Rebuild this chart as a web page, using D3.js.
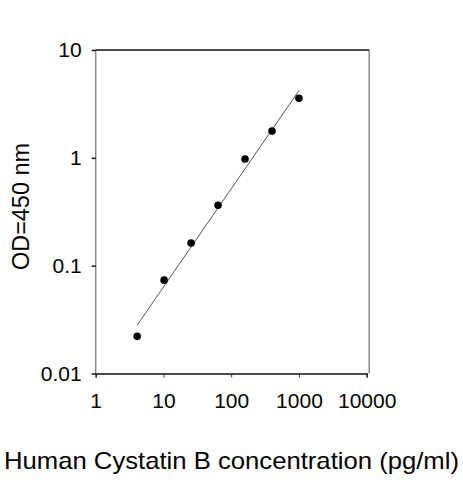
<!DOCTYPE html>
<html>
<head>
<meta charset="utf-8">
<script src="https://cdn.jsdelivr.net/npm/d3@7"></script>
<style>
  html, body { margin: 0; padding: 0; background: #fff; }
  svg { display: block; font-family: "Liberation Sans", Arial, sans-serif; }
</style>
</head>
<body>
<div id="chart"></div>
<script>
// concentration (pg/ml) vs OD at 450 nm
const concentrations = [4.096, 10.24, 25.6, 64, 160, 400, 1000];
const odValues = [0.0221, 0.0734, 0.162, 0.363, 0.975, 1.77, 3.56];
// fitted line endpoints
const fitLine = [[4.096, 0.0281], [1000, 4.2]];
const xTicks = [1, 10, 100, 1000, 10000];
const yTicks = [0.01, 0.1, 1, 10];
const yTickLabels = ['0.01', '0.1', '1', '10'];

const width = 463, height = 480;
const svg = d3.select('#chart').append('svg')
    .attr('width', width)
    .attr('height', height);

const x = d3.scaleLog().domain([1, 10000]).range([95.7, 366.7]);
const y = d3.scaleLog().domain([0.01, 10]).range([373.5, 50]);

// frame: left/right grey, top black
svg.append('line')
    .attr('x1', x(1)).attr('x2', x(1))
    .attr('y1', y(10)).attr('y2', y(0.01))
    .attr('stroke', '#8a8a8a').attr('stroke-width', 1.5);
svg.append('line')
    .attr('x1', x(10000) + 2.5).attr('x2', x(10000) + 2.5)
    .attr('y1', y(10)).attr('y2', y(0.01))
    .attr('stroke', '#8a8a8a').attr('stroke-width', 1.5);
svg.append('line')
    .attr('x1', x(1)).attr('x2', x(10000) + 2.5)
    .attr('y1', y(10)).attr('y2', y(10))
    .attr('stroke', '#111').attr('stroke-width', 1.5);

// x axis
const xAxis = svg.append('g')
    .attr('transform', `translate(0,${y(0.01)})`)
    .call(d3.axisBottom(x).tickValues(xTicks).tickFormat(d3.format('d')).tickSize(4).tickPadding(16));
xAxis.select('.domain').attr('stroke', '#111').attr('stroke-width', 1.5);
xAxis.selectAll('.tick line').attr('stroke', '#333').attr('stroke-width', 1);
xAxis.selectAll('text').attr('font-size', 21).attr('fill', '#000')
    .attr('font-family', '"Liberation Sans", Arial, sans-serif');

// y axis
const yAxis = svg.append('g')
    .attr('transform', `translate(${x(1)},0)`)
    .call(d3.axisLeft(y).tickValues(yTicks).tickFormat((d, i) => yTickLabels[i]).tickSize(4).tickPadding(10));
yAxis.select('.domain').remove();
yAxis.selectAll('.tick line').attr('stroke', '#111').attr('stroke-width', 1.5);
yAxis.selectAll('text').attr('font-size', 21).attr('fill', '#000')
    .attr('font-family', '"Liberation Sans", Arial, sans-serif');

// fitted line
svg.append('line')
    .attr('x1', x(fitLine[0][0])).attr('y1', y(fitLine[0][1]))
    .attr('x2', x(fitLine[1][0])).attr('y2', y(fitLine[1][1]))
    .attr('stroke', '#555').attr('stroke-width', 1);

// points
svg.append('g')
    .selectAll('circle')
    .data(concentrations.map((c, i) => ({ c, od: odValues[i] })))
    .enter().append('circle')
    .attr('cx', d => x(d.c))
    .attr('cy', d => y(d.od))
    .attr('r', 3.8)
    .attr('fill', '#000');

// axis titles
svg.append('text')
    .attr('x', 4)
    .attr('y', 469)
    .attr('font-size', 24)
    .attr('textLength', 455)
    .attr('lengthAdjust', 'spacingAndGlyphs')
    .text('Human Cystatin B concentration (pg/ml)');

svg.append('text')
    .attr('transform', `translate(29,270) rotate(-90)`)
    .attr('font-size', 24)
    .attr('textLength', 127)
    .attr('lengthAdjust', 'spacingAndGlyphs')
    .text('OD=450 nm');
</script>
</body>
</html>
